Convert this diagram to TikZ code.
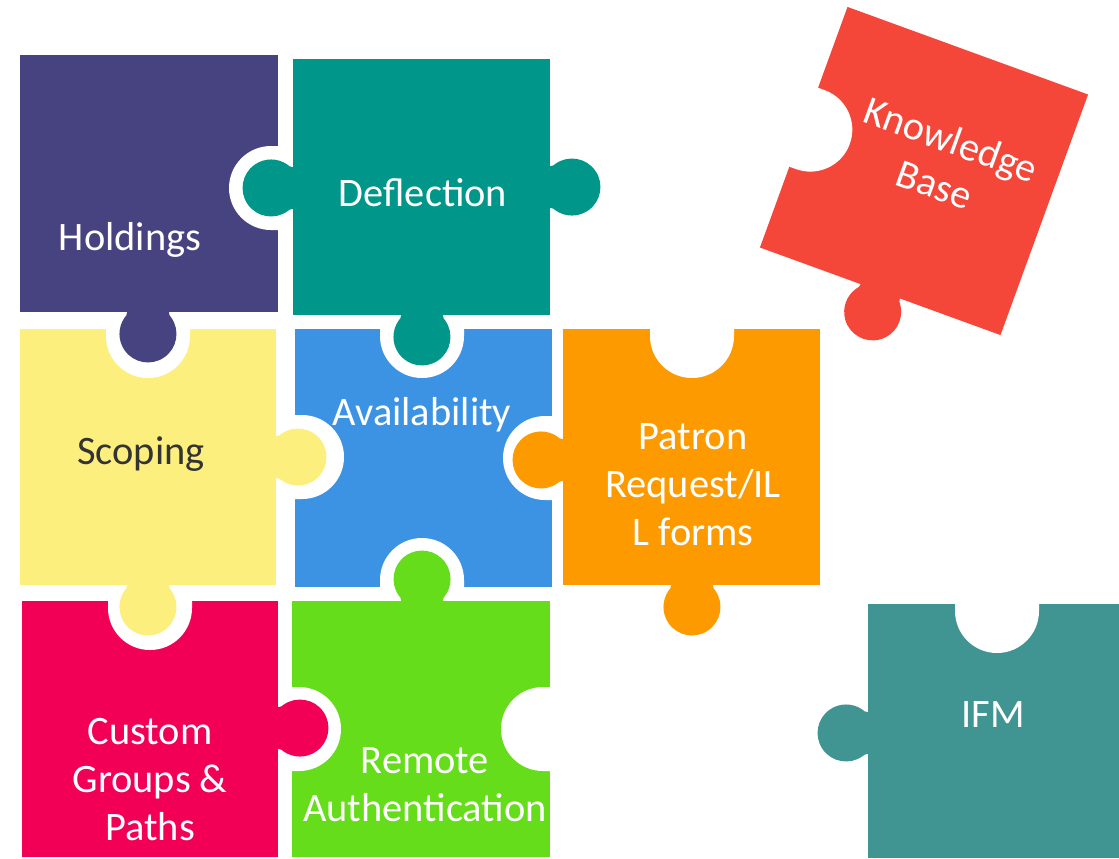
\documentclass[tikz,border=0pt]{standalone}
\usepackage{fontspec}
\setmainfont{Carlito}
\usepackage{xcolor}
\definecolor{holdcol}{HTML}{474380}
\definecolor{deflcol}{HTML}{00968A}
\definecolor{scopcol}{HTML}{FDEF7E}
\definecolor{availcol}{HTML}{3D93E3}
\definecolor{patrcol}{HTML}{FD9A00}
\definecolor{custcol}{HTML}{F20056}
\definecolor{remcol}{HTML}{66DD1A}
\definecolor{kbcol}{HTML}{F44639}
\definecolor{ifmcol}{HTML}{409492}
\definecolor{darktext}{HTML}{333333}
% knob: edge point x, y, direction out of the piece, colour
\newcommand{\knob}[4]{%
  \fill[#4, shift={(#1,#2)}, rotate=#3] (-1,-21) -- (1,-21)
    .. controls (3,-21) and (4,-22.1) .. (5.6,-23.3)
    arc[start angle=-125, end angle=125, radius=28.5]
    .. controls (4,22.1) and (3,21) .. (1,21) -- (-1,21) -- cycle;}
% hole: edge point x, y, direction into the piece
\newcommand{\hole}[3]{%
  \fill[white, shift={(#1,#2)}, rotate=#3] (-1,-42) -- (7,-42)
    arc[start angle=-90, end angle=90, radius=42] -- (-1,42) -- cycle;}
\tikzset{
  lbl/.style={font=\fontsize{20.2}{24}\selectfont, text=white, align=center, inner sep=0pt},
  darklbl/.style={lbl, text=darktext}
}
\begin{document}
\begin{tikzpicture}[x=0.5pt, y=-0.5pt]
    \useasboundingbox (0,0) rectangle (1119,858);
    % Square bodies
    \fill[holdcol] (20,55) rectangle (278,312);
    \fill[deflcol] (293,59) rectangle (550,315);
    \fill[scopcol] (20,329) rectangle (276,585);
    \fill[availcol] (295,329) rectangle (552,587);
    \fill[patrcol] (563,329) rectangle (820,585);
    \fill[custcol] (22,601) rectangle (278,857);
    \fill[remcol] (292,601) rectangle (550,857);
    \fill[ifmcol] (868,604) rectangle (1119,858);

    % Holes
    \hole{278}{188}{180}
    \hole{148}{329}{-90}
    \hole{422}{329}{-90}
    \hole{295}{457}{0}
    \hole{552}{458}{180}
    \hole{422}{587}{90}
    \hole{692}{329}{-90}
    \hole{150}{601}{-90}
    \hole{292}{729}{0}
    \hole{550}{729}{180}
    \hole{997}{604}{-90}

    % Knobs
    \knob{148}{312}{-90}{holdcol}
    \knob{293}{188}{180}{deflcol}
    \knob{550}{187}{0}{deflcol}
    \knob{422}{315}{-90}{deflcol}
    \knob{276}{457}{0}{scopcol}
    \knob{148}{585}{-90}{scopcol}
    \knob{563}{460}{180}{patrcol}
    \knob{692}{585}{-90}{patrcol}
    \knob{278}{728}{0}{custcol}
    \knob{422}{601}{90}{remcol}
    \knob{868}{733}{180}{ifmcol}

    % Loose piece, turned
    \begin{scope}[shift={(924,171)}, rotate=-20]
        \fill[kbcol] (-128,-128) rectangle (128,128);
        \hole{-128}{0}{0}
        \knob{0}{128}{-90}{kbcol}
        \node[lbl, transform shape] (kbase) at (15,-15) {Knowledge\\Base};
    \end{scope}

    % Labels
    \node[lbl] (holdings) at (130,240) {Holdings};
    \node[lbl] (deflection) at (423,193) {Deflection};
    \node[darklbl] (scoping) at (141,454) {Scoping};
    \node[lbl] (availability) at (422,415) {Availability};
    \node[lbl] (patron) at (693,485) {Patron\\Request/IL\\L forms};
    \node[lbl] (custom) at (150,780) {Custom\\Groups \&\\Paths};
    \node[lbl] (remote) at (425,785) {Remote\\Authentication};
    \node[lbl] (ifm) at (993,715) {IFM};
\end{tikzpicture}
\end{document}
